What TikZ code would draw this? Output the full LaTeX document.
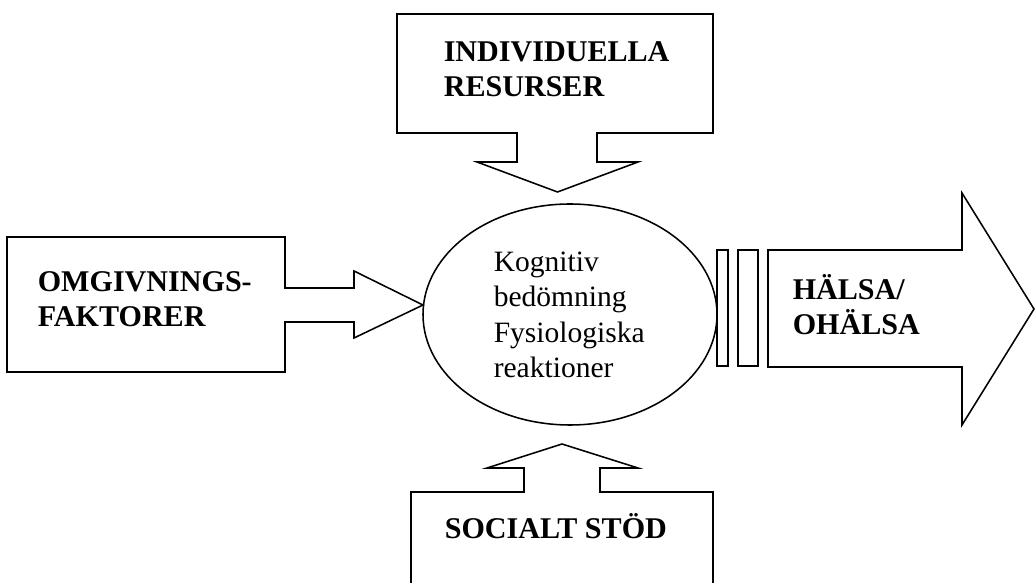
\documentclass[tikz,border=0pt]{standalone}
\usepackage{fontspec}
\setmainfont{Liberation Serif}

\begin{document}
\begin{tikzpicture}[x=0.025cm, y=-0.025cm, line width=1.1pt, line join=miter,
    rubrik/.style={font=\fontsize{21.4}{25.3}\selectfont\bfseries, align=left, anchor=base west, inner sep=0pt},
    inre/.style={font=\fontsize{21}{25.3}\selectfont, align=left, anchor=base west, inner sep=0pt}]
    % Picture frame (pixels of the reference)
    \useasboundingbox (0,0) rectangle (1035,583);
    \clip (0,0) rectangle (1035,583);

    % Top callout, arrow pointing down
    \draw (397,14) -- (713,14) -- (713,133) -- (597,133) -- (597,162) -- (638,162)
      -- (557.5,192) -- (477,162) -- (517,162) -- (517,133) -- (397,133) -- cycle;
    \node[rubrik] (resurser) at (443,97) {INDIVIDUELLA\\RESURSER};

    % Left callout, arrow pointing right
    \draw (7,237) -- (285,237) -- (285,288) -- (354,288) -- (354,271) -- (423,305)
      -- (354,338) -- (354,322) -- (285,322) -- (285,372) -- (7,372) -- cycle;
    \node[rubrik] (omgivning) at (37,327) {OMGIVNINGS-\\FAKTORER};

    % Bottom callout, arrow pointing up (box runs off the page)
    \draw (411,600) -- (411,492) -- (524,492) -- (524,468) -- (487,468) -- (562,444)
      -- (638,468) -- (600,468) -- (600,492) -- (713,492) -- (713,600);
    \node[rubrik] (stod) at (444,538) {SOCIALT STÖD};

    % Ellipse in the middle
    \draw (570,314.5) ellipse [x radius=147, y radius=110.5];
    \node[inre] (bedomning) at (493,378) {Kognitiv\\bedömning\\Fysiologiska\\reaktioner};

    % Two bars and the big arrow to the right
    \draw (717,250) rectangle (728,366);
    \draw (738,250) rectangle (758,366);
    \draw (768,250) -- (962,250) -- (962,193) -- (1034,309) -- (962,425) -- (962,367)
      -- (768,367) -- cycle;
    \node[rubrik] (halsa) at (792,335) {HÄLSA/\\OHÄLSA};
\end{tikzpicture}
\end{document}
